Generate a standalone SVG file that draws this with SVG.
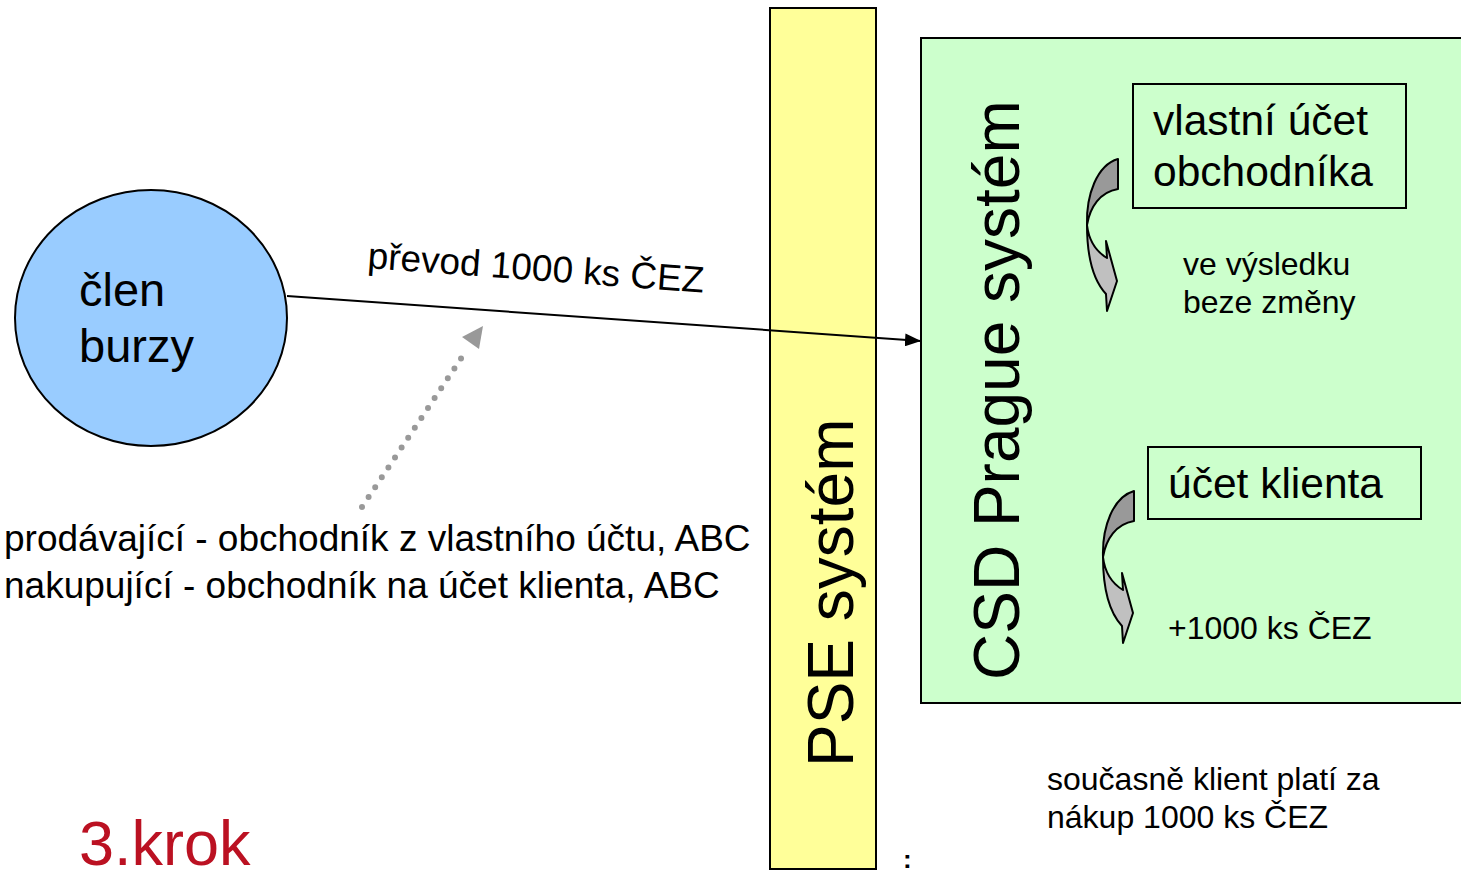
<svg xmlns="http://www.w3.org/2000/svg" width="1461" height="870" viewBox="0 0 1461 870">
<style>
text{font-family:"Liberation Sans",Arial,sans-serif;fill:#000}
.box{stroke:#000;stroke-width:2}
</style>
<defs>
<marker id="ah" markerWidth="16" markerHeight="13" refX="16" refY="6.5" orient="auto" markerUnits="userSpaceOnUse">
<path d="M0,0 L16,6.5 L0,13 Z" fill="#000"/>
</marker>
<g id="curl">
<path d="M1118,159 L1118,189 C1100,192 1090,207 1087,225 C1086,195 1097,165 1118,159 Z" fill="#999999" stroke="#000" stroke-width="2" stroke-linejoin="round"/>
<path d="M1087,225 C1089,242 1097,252 1107,258 L1106,241 L1117,281 L1107,311 L1106,294 C1093,280 1087,258 1087,225 Z" fill="#c0c0c0" stroke="#000" stroke-width="2" stroke-linejoin="round"/>
</g>
</defs>
<rect width="1461" height="870" fill="#fff"/>
<g id="pse">
<rect class="box" x="770" y="8" width="106" height="861" fill="#FFFF99"/>
<text transform="translate(853,767) rotate(-90)" font-size="64">PSE systém</text>
</g>
<g id="csd">
<rect class="box" x="921" y="38" width="545" height="665" fill="#CCFFCC"/>
<text transform="translate(1019,680) rotate(-90)" font-size="64">CSD Prague systém</text>
</g>
<g id="vlastni">
<rect x="1133" y="84" width="273" height="124" fill="none" stroke="#000" stroke-width="2"/>
<text x="1153" y="135" font-size="42.5">vlastní účet</text>
<text x="1153" y="186" font-size="42.5">obchodníka</text>
</g>
<g id="klient">
<rect x="1148" y="447" width="273" height="72" fill="none" stroke="#000" stroke-width="2"/>
<text x="1168" y="498" font-size="42.5">účet klienta</text>
</g>
<g id="curl1"><use href="#curl"/></g>
<g id="curl2"><use href="#curl" transform="translate(16,332)"/></g>
<g id="vysledek">
<text x="1183" y="275" font-size="32">ve výsledku</text>
<text x="1183" y="313" font-size="32">beze změny</text>
</g>
<g id="plus">
<text x="1168" y="639" font-size="32">+1000 ks ČEZ</text>
</g>
<g id="clen">
<ellipse cx="151" cy="318" rx="136" ry="128" fill="#99CCFF" stroke="#000" stroke-width="2"/>
<text x="79" y="306" font-size="47">člen</text>
<text x="79" y="362" font-size="47">burzy</text>
</g>
<g id="connectors">
<line x1="287" y1="296" x2="921" y2="341" stroke="#000" stroke-width="2" marker-end="url(#ah)"/>
<line x1="362" y1="507" x2="466" y2="351" stroke="#999" stroke-width="6" stroke-linecap="round" stroke-dasharray="0 11.9"/>
<path d="M483,326 L462,337 L479,349 Z" fill="#999"/>
</g>
<g id="prevod">
<text transform="translate(367,268) rotate(4.2)" font-size="37">převod 1000 ks ČEZ</text>
</g>
<g id="popis">
<text x="4" y="551" font-size="37">prodávající - obchodník z vlastního účtu, ABC</text>
<text x="4" y="598" font-size="37">nakupující - obchodník na účet klienta, ABC</text>
</g>
<g id="soucasne">
<text x="1047" y="790" font-size="32">současně klient platí za</text>
<text x="1047" y="828" font-size="32">nákup 1000 ks ČEZ</text>
</g>
<text x="903" y="868" font-size="26" font-weight="bold">:</text>
<g id="krok">
<text x="79" y="865" font-size="63" style="fill:#BB1122">3.krok</text>
</g>
</svg>
